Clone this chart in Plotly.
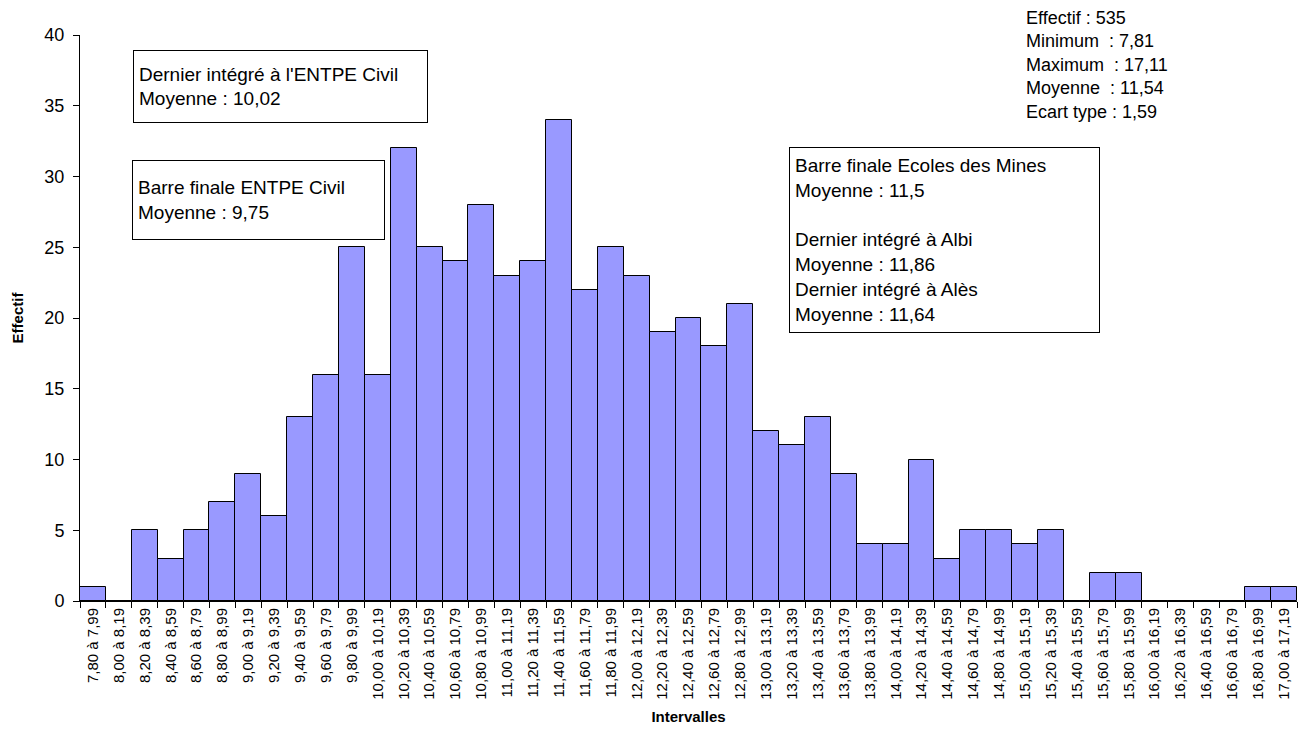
import plotly.graph_objects as go

categories = ["7,80 à 7,99", "8,00 à 8,19", "8,20 à 8,39", "8,40 à 8,59", "8,60 à 8,79",
              "8,80 à 8,99", "9,00 à 9,19", "9,20 à 9,39", "9,40 à 9,59", "9,60 à 9,79",
              "9,80 à 9,99", "10,00 à 10,19", "10,20 à 10,39", "10,40 à 10,59", "10,60 à 10,79",
              "10,80 à 10,99", "11,00 à 11,19", "11,20 à 11,39", "11,40 à 11,59", "11,60 à 11,79",
              "11,80 à 11,99", "12,00 à 12,19", "12,20 à 12,39", "12,40 à 12,59", "12,60 à 12,79",
              "12,80 à 12,99", "13,00 à 13,19", "13,20 à 13,39", "13,40 à 13,59", "13,60 à 13,79",
              "13,80 à 13,99", "14,00 à 14,19", "14,20 à 14,39", "14,40 à 14,59", "14,60 à 14,79",
              "14,80 à 14,99", "15,00 à 15,19", "15,20 à 15,39", "15,40 à 15,59", "15,60 à 15,79",
              "15,80 à 15,99", "16,00 à 16,19", "16,20 à 16,39", "16,40 à 16,59", "16,60 à 16,79",
              "16,80 à 16,99", "17,00 à 17,19"]
effectifs = [1, 0, 5, 3, 5, 7, 9, 6, 13, 16, 25, 16, 32, 25, 24, 28, 23, 24, 34, 22,
             25, 23, 19, 20, 18, 21, 12, 11, 13, 9, 4, 4, 10, 3, 5, 5, 4, 5, 0, 2,
             2, 0, 0, 0, 0, 1, 1]
y_ticks = [0, 5, 10, 15, 20, 25, 30, 35, 40]

stats_text = ("Effectif : 535<br>Minimum  : 7,81<br>Maximum  : 17,11<br>"
              "Moyenne  : 11,54<br>Ecart type : 1,59")
box1_text = "Dernier intégré à l'ENTPE Civil<br>Moyenne : 10,02"
box2_text = "Barre finale ENTPE Civil<br>Moyenne : 9,75"
box3_text = ("Barre finale Ecoles des Mines<br>Moyenne : 11,5<br><br>"
             "Dernier intégré à Albi<br>Moyenne : 11,86<br>"
             "Dernier intégré à Alès<br>Moyenne : 11,64")

FONT = "Liberation Sans, Arial, sans-serif"
W, H = 1309, 731
L, R, T, B = 80, 12, 35, 130
PW, PH = W - L - R, H - T - B


def px_x(px):
    return (px - L) / PW


def px_y(py):
    return (H - B - py) / PH


fig = go.Figure(go.Bar(
    x=categories, y=effectifs,
    marker=dict(color="#9999FF", line=dict(color="#000000", width=1)),
    width=1.0,
))

fig.update_layout(
    width=W, height=H,
    margin=dict(l=L, r=R, t=T, b=B, autoexpand=False),
    paper_bgcolor="white", plot_bgcolor="white",
    font=dict(family=FONT, color="black"),
    showlegend=False,
    bargap=0,
)
fig.update_xaxes(
    type="category", tickangle=-90, tickfont=dict(size=15, family=FONT),
    showline=True, linecolor="black", linewidth=1,
    ticks="outside", ticklen=6, tickcolor="black", tickson="boundaries",
    showgrid=False, zeroline=False, automargin=False,
    title=dict(text="<b>Intervalles</b>", font=dict(size=15, family=FONT), standoff=12),
)
fig.update_yaxes(
    range=[0, 40], tickvals=y_ticks, tickfont=dict(size=18, family=FONT),
    showline=True, linecolor="black", linewidth=1,
    ticks="outside", ticklen=6, tickcolor="black", ticklabelstandoff=5,
    showgrid=False, zeroline=False, automargin=False,
    title=dict(text="<b>Effectif</b>", font=dict(size=15, family=FONT), standoff=17),
)


def box(text, left, top, w, h):
    fig.add_annotation(
        text=text, xref="paper", yref="paper",
        x=px_x(left), y=px_y(top), xanchor="left", yanchor="top",
        showarrow=False, align="left", valign="middle",
        width=w - 12, height=h - 12, borderpad=5,
        bordercolor="black", borderwidth=1, bgcolor="white",
        font=dict(size=19, family=FONT, color="black"),
    )


box(box1_text, 133, 50, 295, 73)
box(box2_text, 132, 160, 253, 80)
box(box3_text, 789, 147, 311, 186)

fig.add_annotation(
    text=stats_text, xref="paper", yref="paper",
    x=px_x(1024), y=px_y(6), xanchor="left", yanchor="top",
    showarrow=False, align="left",
    font=dict(size=18, family=FONT, color="black"),
)

fig.write_html("out.html", config={"displayModeBar": False},
               post_script="document.body.style.margin='0px';")
